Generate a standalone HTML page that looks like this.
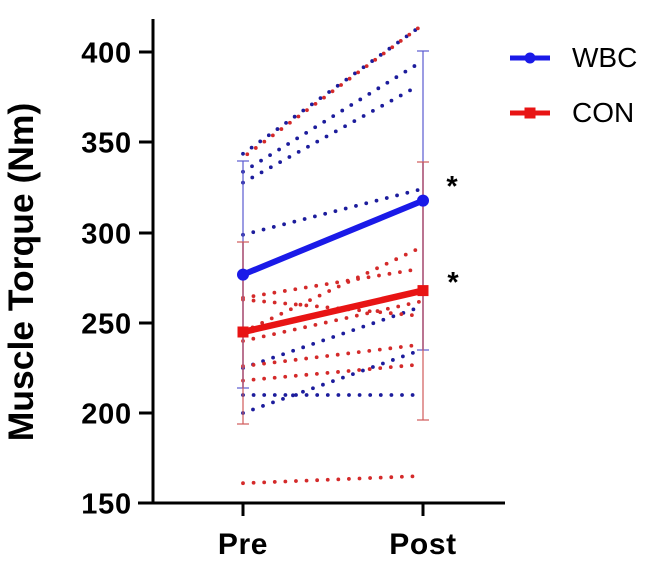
<!DOCTYPE html>
<html>
<head>
<meta charset="utf-8">
<style>
  html, body { margin: 0; padding: 0; background: #ffffff; }
  svg { display: block; }
  text { font-family: "Liberation Sans", Arial, sans-serif; }
</style>
</head>
<body>
<svg width="652" height="567" viewBox="0 0 652 567" xmlns="http://www.w3.org/2000/svg">
  <rect x="0" y="0" width="652" height="567" fill="#ffffff"/>

  <!-- Individual dotted lines: blue (WBC) -->
  <g fill="none" stroke="#1c1c9c" stroke-width="3.8" stroke-linecap="round" stroke-dasharray="0 10.6">
    <line x1="243" y1="153.8" x2="421" y2="26"/>
    <line x1="243" y1="171.8" x2="421" y2="62"/>
    <line x1="243" y1="182.6" x2="419" y2="85.4"/>
    <line x1="243" y1="234.8" x2="419" y2="189.8"/>
    <line x1="243" y1="368" x2="421" y2="306.8"/>
    <line x1="243" y1="395" x2="421" y2="395"/>
    <line x1="243" y1="413" x2="421" y2="350"/>
  </g>
  <!-- Individual dotted lines: red (CON) -->
  <g fill="none" stroke="#d42a2a" stroke-width="3.8" stroke-linecap="round" stroke-dasharray="0 10.6">
    <line x1="243" y1="157.4" x2="421" y2="26" stroke-dashoffset="5.3"/>
    <line x1="243" y1="297.8" x2="419" y2="269"/>
    <line x1="243" y1="299.6" x2="419" y2="315.8"/>
    <line x1="243" y1="332" x2="421" y2="247.4"/>
    <line x1="243" y1="341" x2="421" y2="301.4"/>
    <line x1="243" y1="366.2" x2="421" y2="344.6"/>
    <line x1="243" y1="380.6" x2="421" y2="364.4"/>
    <line x1="243" y1="483.2" x2="421" y2="476"/>
  </g>

  <!-- Error bars -->
  <g stroke-width="2" fill="none">
    <g stroke="#5a5ad0" stroke-opacity="0.6">
      <line x1="243" y1="161" x2="243" y2="388"/>
      <line x1="237" y1="161" x2="249" y2="161"/>
      <line x1="237" y1="388" x2="249" y2="388"/>
    </g>
    <g stroke="#d05a5a" stroke-opacity="0.6">
      <line x1="243" y1="242" x2="243" y2="424"/>
      <line x1="237" y1="242" x2="249" y2="242"/>
      <line x1="237" y1="424" x2="249" y2="424"/>
    </g>
    <g stroke="#5a5ad0" stroke-opacity="0.6">
      <line x1="423" y1="51" x2="423" y2="350"/>
      <line x1="417" y1="51" x2="429" y2="51"/>
      <line x1="417" y1="350" x2="429" y2="350"/>
    </g>
    <g stroke="#d05a5a" stroke-opacity="0.6">
      <line x1="423" y1="162" x2="423" y2="420"/>
      <line x1="417" y1="162" x2="429" y2="162"/>
      <line x1="417" y1="420" x2="429" y2="420"/>
    </g>
  </g>

  <!-- Mean lines -->
  <line x1="243" y1="274.6" x2="423" y2="200.6" stroke="#1a1ae8" stroke-width="6"/>
  <circle cx="243" cy="274.6" r="6" fill="#1a1ae8"/>
  <circle cx="423" cy="200.6" r="6" fill="#1a1ae8"/>

  <line x1="243" y1="332" x2="423" y2="290.6" stroke="#e81414" stroke-width="6.5"/>
  <rect x="237.5" y="326.5" width="11" height="11" fill="#e81414"/>
  <rect x="417.5" y="285.1" width="11" height="11" fill="#e81414"/>

  <!-- Axes -->
  <g stroke="#000" stroke-width="3" fill="none" stroke-linecap="butt">
    <line x1="153" y1="19" x2="153" y2="504.5"/>
    <line x1="138" y1="503" x2="505" y2="503"/>
    <line x1="139" y1="52" x2="153" y2="52"/>
    <line x1="139" y1="142" x2="153" y2="142"/>
    <line x1="139" y1="233" x2="153" y2="233"/>
    <line x1="139" y1="323" x2="153" y2="323"/>
    <line x1="139" y1="413" x2="153" y2="413"/>
    <line x1="243" y1="503" x2="243" y2="516"/>
    <line x1="423" y1="503" x2="423" y2="516"/>
  </g>

  <!-- Y tick labels -->
  <g font-size="29" font-weight="bold" fill="#000" text-anchor="end" letter-spacing="0.8">
    <text x="132" y="62.5">400</text>
    <text x="132" y="152.5">350</text>
    <text x="132" y="243.5">300</text>
    <text x="132" y="333.5">250</text>
    <text x="132" y="423.5">200</text>
    <text x="132" y="513.5">150</text>
  </g>

  <!-- X tick labels -->
  <g font-size="30" font-weight="bold" fill="#000" text-anchor="middle" letter-spacing="0.6">
    <text x="243" y="554">Pre</text>
    <text x="423" y="554">Post</text>
  </g>

  <!-- Y axis title -->
  <text transform="translate(33,272) rotate(-90)" font-size="35.5" font-weight="bold" fill="#000" text-anchor="middle">Muscle Torque (Nm)</text>

  <!-- Significance asterisks -->
  <g font-size="29" font-weight="bold" fill="#000" text-anchor="middle">
    <text x="452" y="196">*</text>
    <text x="453" y="292">*</text>
  </g>

  <!-- Legend -->
  <line x1="510" y1="58" x2="550" y2="58" stroke="#1a1ae8" stroke-width="5"/>
  <circle cx="530" cy="58" r="5.5" fill="#1a1ae8"/>
  <text x="572" y="67" font-size="28" fill="#000">WBC</text>

  <line x1="510" y1="113" x2="550" y2="113" stroke="#e81414" stroke-width="5"/>
  <rect x="524.5" y="107.5" width="11" height="11" fill="#e81414"/>
  <text x="572" y="122" font-size="28" fill="#000">CON</text>
</svg>
</body>
</html>
